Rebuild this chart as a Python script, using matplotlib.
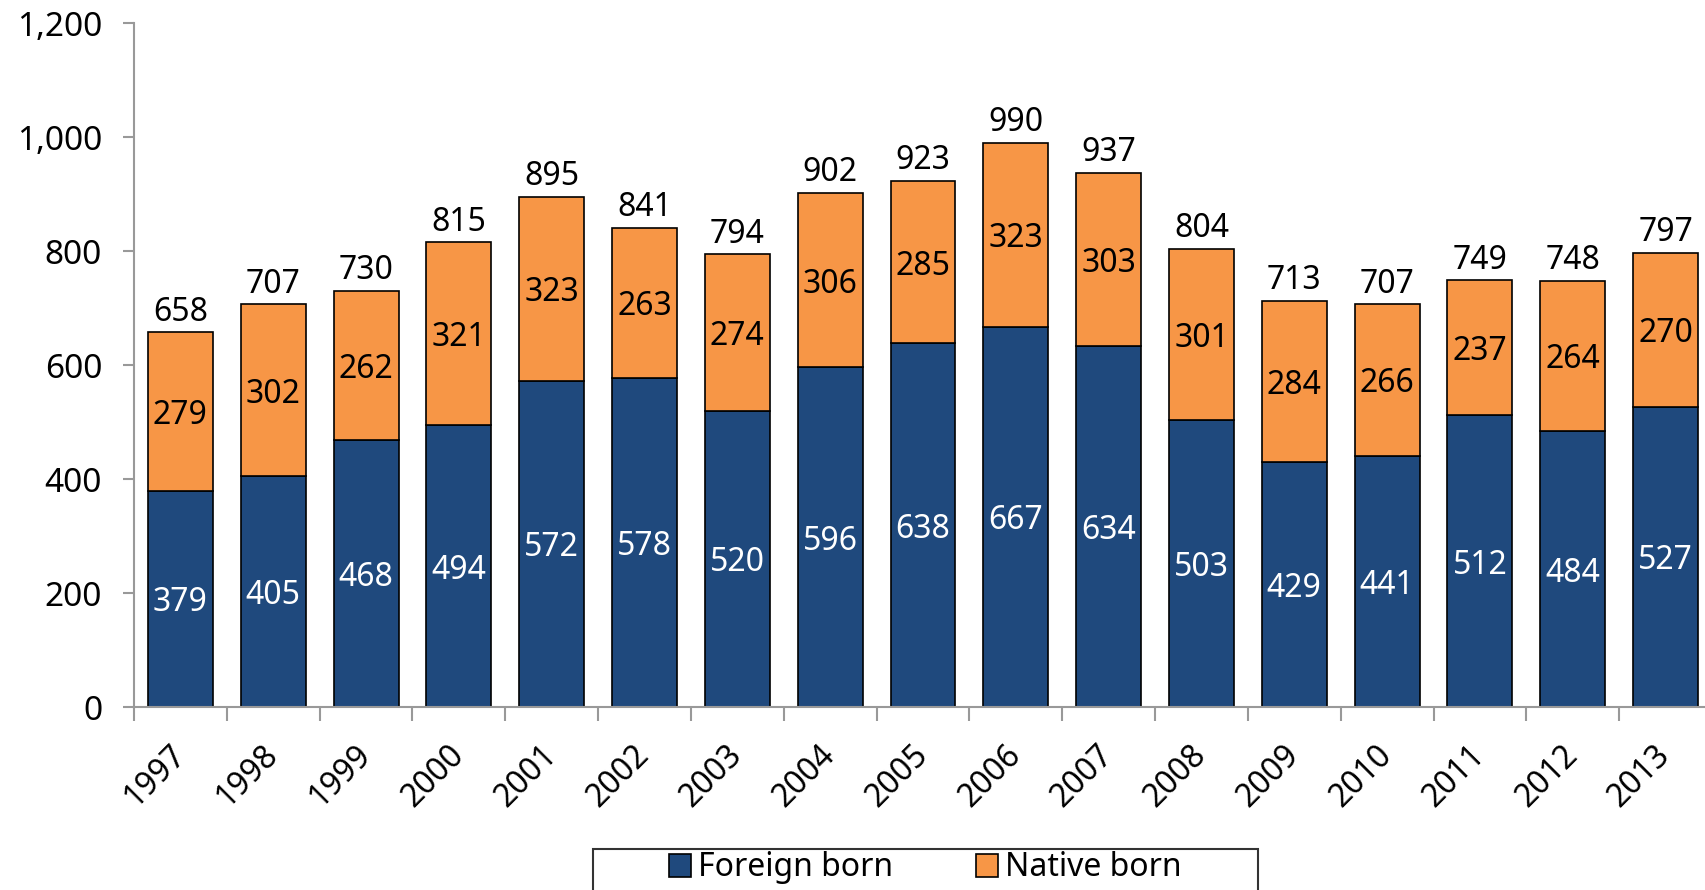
import matplotlib
matplotlib.use("Agg")
import matplotlib.pyplot as plt
from matplotlib.patches import Rectangle
from matplotlib.ticker import FuncFormatter, FixedLocator
from matplotlib.transforms import ScaledTranslation

plt.rcParams['font.family'] = ['Noto Sans', 'DejaVu Sans']

years = ['1997', '1998', '1999', '2000', '2001', '2002', '2003', '2004', '2005',
         '2006', '2007', '2008', '2009', '2010', '2011', '2012', '2013']
foreign_born = [379, 405, 468, 494, 572, 578, 520, 596, 638, 667, 634, 503, 429, 441, 512, 484, 527]
native_born = [279, 302, 262, 321, 323, 263, 274, 306, 285, 323, 303, 301, 284, 266, 237, 264, 270]

blue = '#1F497D'
orange = '#F79646'
fs = 23

fig = plt.figure(figsize=(17.06, 8.90), dpi=100)
ax = fig.add_axes([134 / 1706, 1 - 707 / 890, (1712 - 134) / 1706, (707 - 23) / 890])

x = list(range(len(years)))
totals = [f + n for f, n in zip(foreign_born, native_born)]

b1 = ax.bar(x, foreign_born, width=0.7, color=blue, edgecolor='black', linewidth=1.2,
            label='Foreign born')
b2 = ax.bar(x, native_born, width=0.7, bottom=foreign_born, color=orange, edgecolor='black',
            linewidth=1.2, label='Native born')

for i in x:
    ax.text(i, foreign_born[i] / 2, str(foreign_born[i]), ha='center', va='center_baseline',
            color='white', fontsize=fs)
    ax.text(i, foreign_born[i] + native_born[i] / 2, str(native_born[i]), ha='center',
            va='center_baseline', color='black', fontsize=fs)
    ax.text(i, totals[i] + 6, str(totals[i]), ha='center', va='bottom', color='black',
            fontsize=fs)

ax.set_xlim(-0.5, len(years) - 0.5)
ax.set_ylim(0, 1200)
ax.set_yticks(range(0, 1201, 200))
ax.yaxis.set_major_formatter(FuncFormatter(lambda v, p: f'{int(v):,}'))

ax.set_xticks(x)
ax.set_xticklabels(years, rotation=45, ha='right', va='center', rotation_mode='anchor')
shift = ScaledTranslation(9 / 100, 0, fig.dpi_scale_trans)
for lab in ax.get_xticklabels():
    lab.set_transform(lab.get_transform() + shift)
ax.xaxis.set_minor_locator(FixedLocator([i - 0.5 for i in range(len(years) + 1)]))
ax.tick_params(axis='x', which='major', length=0, pad=31, labelsize=fs)
ax.tick_params(axis='x', which='minor', length=10, width=1.5, color='#999999')
ax.tick_params(axis='y', length=8, width=1.5, color='#999999', labelsize=24, pad=15)

for s in ['top', 'right']:
    ax.spines[s].set_visible(False)
for s in ['left', 'bottom']:
    ax.spines[s].set_color('#999999')
    ax.spines[s].set_linewidth(1.5)

# legend frame
fig.patches.append(Rectangle((593 / 1706, -0.05), (1258 - 593) / 1706, 0.05 + 41 / 890,
                             transform=fig.transFigure, fill=False, edgecolor='#333333',
                             linewidth=1.5))
fig.legend(handles=[b1, b2], loc='center', bbox_to_anchor=(925 / 1706, 22 / 890), ncol=2,
           frameon=False, fontsize=fs, handlelength=0.7, handleheight=0.7,
           handletextpad=0.2, columnspacing=2.6)

fig.savefig('out.png', dpi=100)
